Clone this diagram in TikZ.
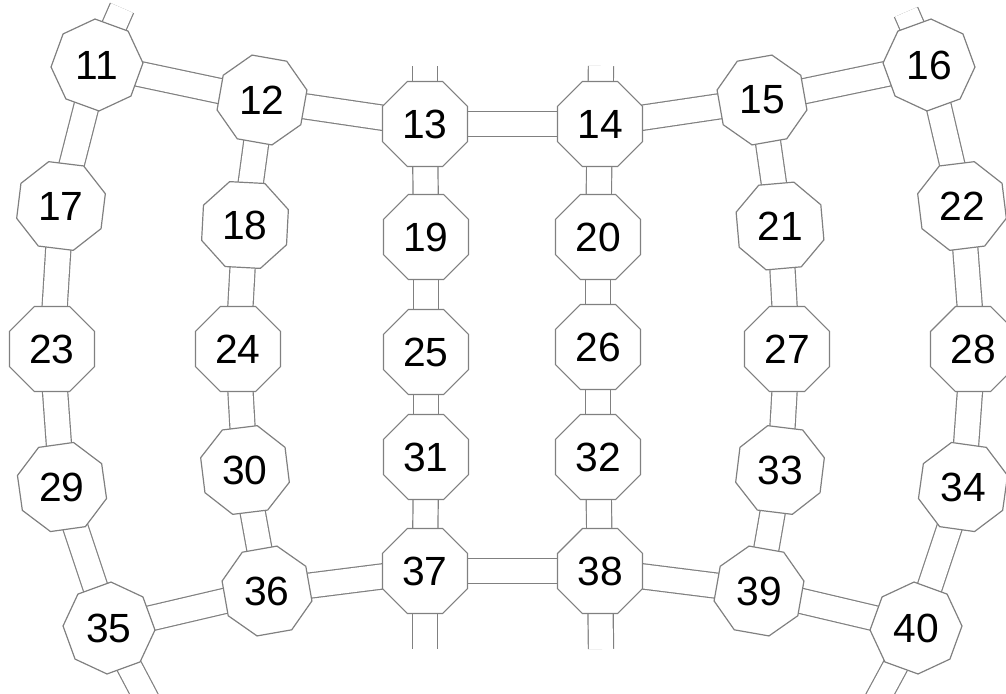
\documentclass[tikz,border=0pt]{standalone}
\usepackage{fontspec}
\setmainfont{Liberation Sans}
\usetikzlibrary{shapes.geometric,backgrounds}
\definecolor{wallgray}{HTML}{808080}
\tikzset{
  cell/.style={
    regular polygon, regular polygon sides=8, draw=wallgray, line width=0.85pt,
    fill=white, inner sep=0pt, minimum size=2.3cm,
    font=\fontsize{29}{31}\selectfont
  },
  tube/.style={draw=wallgray, line width=0.85pt, double=white, double distance=0.6cm},
}

\begin{document}
\begin{tikzpicture}[x=0.025cm, y=-0.025cm]
  \useasboundingbox (0,0) rectangle (1006,693);
  \clip (0,0) rectangle (1006,693);
  % cells: name/x/y/tilt
  \foreach \n/\x/\y/\r in {11/97/65/-20, 12/262/100/-10, 13/425/124/0, 14/600/124/0,
      15/762/100/10, 16/929/65/20,
      17/61/206/-7, 18/245/225/-3, 19/426/237/0, 20/598/237/0, 21/780/226/5, 22/962/206/7,
      23/52/349/0, 24/238/349/0, 25/426/352/0, 26/598/347/0, 27/787/349/0, 28/973/349/0,
      29/62/487/8, 30/245/470/7, 31/426/457/0, 32/598/457/0, 33/780/470/-7, 34/963/487/-8,
      35/109/628/20, 36/267/591/10, 37/425/571/0, 38/600/571/0, 39/759/591/-10, 40/916/628/-20}
    \node[cell, shape border rotate=\r] (c\n) at (\x,\y) {\n};
  % loose ends at the rim
  \coordinate (t11) at (122,8);
  \coordinate (t13) at (425,66);
  \coordinate (t14) at (601,66);
  \coordinate (t16) at (906,12);
  \coordinate (t35) at (147,700);
  \coordinate (t37) at (425,649);
  \coordinate (t38) at (601,649);
  \coordinate (t40) at (877,700);
  \begin{scope}[on background layer]
    \foreach \a/\b in {11/12,12/13,13/14,14/15,15/16,35/36,36/37,37/38,38/39,39/40,
        11/17,17/23,23/29,29/35, 12/18,18/24,24/30,30/36, 13/19,19/25,25/31,31/37,
        14/20,20/26,26/32,32/38, 15/21,21/27,27/33,33/39, 16/22,22/28,28/34,34/40}
      \draw[tube] (c\a.center) -- (c\b.center);
    \foreach \a in {11,13,14,16,35,37,38,40}
      \draw[tube] (c\a.center) -- (t\a);
  \end{scope}
\end{tikzpicture}
\end{document}
